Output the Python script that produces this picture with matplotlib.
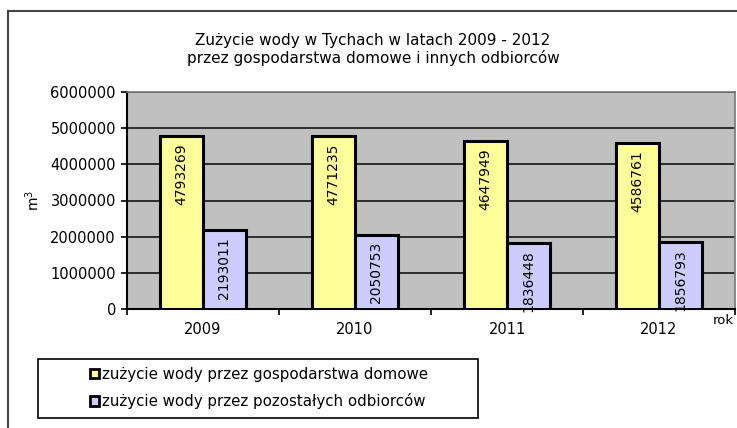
import matplotlib.pyplot as plt
import numpy as np
from matplotlib.patches import Rectangle, Patch
from matplotlib.lines import Line2D

plt.rcParams['font.family'] = ['DejaVu Sans']

lata = ["2009", "2010", "2011", "2012"]
gospodarstwa = [4793269, 4771235, 4647949, 4586761]
pozostali = [2193011, 2050753, 1836448, 1856793]

W, H = 737, 428
fig = plt.figure(figsize=(W / 100, H / 100), dpi=100)

# ramka wykresu (ucięta z prawej i z dołu)
fig.add_artist(Line2D([8 / W, 1], [1 - 11 / H, 1 - 11 / H], color="#444444", lw=1.5))
fig.add_artist(Line2D([8 / W, 8 / W], [0, 1 - 11 / H], color="#444444", lw=1.5))

ax = fig.add_axes([127 / W, 1 - 309 / H, 608 / W, 217 / H])
ax.set_facecolor("#c0c0c0")

x = np.arange(len(lata))
w = 0.28
b1 = ax.bar(x - w / 2, gospodarstwa, w, color="#ffff99", edgecolor="black", linewidth=2.2, zorder=3)
b2 = ax.bar(x + w / 2, pozostali, w, color="#ccccff", edgecolor="black", linewidth=2.2, zorder=3)

for bars, vals in ((b1, gospodarstwa), (b2, pozostali)):
    for r, v in zip(bars, vals):
        ax.text(r.get_x() + r.get_width() / 2, v - 200000, str(v), rotation=90,
                ha="center", va="top", fontsize=10, zorder=4)

ax.set_xlim(-0.5, 3.5)
ax.set_ylim(0, 6000000)
ax.set_yticks(np.arange(0, 6000001, 1000000))
ax.set_yticklabels([str(v) for v in range(0, 6000001, 1000000)], fontsize=10.5)
ax.yaxis.grid(True, color="#222222", linewidth=1.3, zorder=1)
ax.set_axisbelow(True)

ax.set_xticks(x)
ax.set_xticklabels(lata, fontsize=10.5)
ax.tick_params(axis="x", length=0, pad=9)
ax.set_xticks(np.arange(-0.5, 4, 1), minor=True)
ax.tick_params(axis="x", which="minor", length=4, width=1.2, color="black")
ax.tick_params(axis="y", length=4, width=1.2, pad=4)

for s in ("left", "bottom"):
    ax.spines[s].set_color("black")
    ax.spines[s].set_linewidth(1.5)
for s in ("top", "right"):
    ax.spines[s].set_color("#777777")
    ax.spines[s].set_linewidth(1.2)

ax.set_ylabel("m$^3$", fontsize=10)
ax.yaxis.set_label_coords(-0.14, 0.5)
fig.text(723 / W, 1 - 321 / H, "rok", fontsize=9.5, ha="center", va="center")

fig.text(373 / W, 1 - 40 / H, "Zużycie wody w Tychach w latach 2009 - 2012",
         fontsize=11, ha="center", va="center")
fig.text(373 / W, 1 - 58 / H, "przez gospodarstwa domowe i innych odbiorców",
         fontsize=11, ha="center", va="center")

# legenda
fig.add_artist(Rectangle((38 / W, 1 - 418 / H), 440 / W, 59 / H, transform=fig.transFigure,
                         facecolor="white", edgecolor="black", linewidth=1.2))
handles = [Patch(facecolor="#ffff99", edgecolor="black", linewidth=2),
           Patch(facecolor="#ccccff", edgecolor="black", linewidth=2)]
fig.legend(handles, ["zużycie wody przez gospodarstwa domowe",
                     "zużycie wody przez pozostałych odbiorców"],
           loc="center", bbox_to_anchor=(259 / W, 1 - 388 / H), frameon=False,
           fontsize=10.8, handlelength=0.6, handleheight=0.6, handletextpad=0.15,
           labelspacing=0.75)

plt.savefig("out.png", dpi=100)
